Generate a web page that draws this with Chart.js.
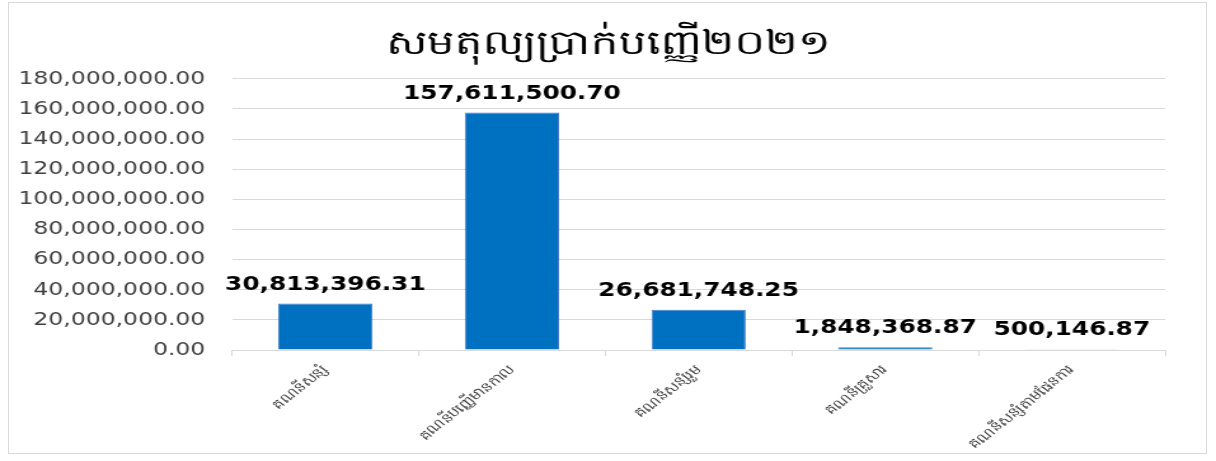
<!DOCTYPE html>
<html>
<head>
<meta charset="utf-8">
<script src="https://cdn.jsdelivr.net/npm/chart.js@4.4.0/dist/chart.umd.min.js"></script>
<style>
  html, body { margin: 0; padding: 0; background: #ffffff; }
  body { width: 1216px; height: 461px; position: relative; overflow: hidden; }
  #frame { position: absolute; left: 8px; top: 2px; width: 1199px; height: 452px; border: 1px solid #d9d9d9; box-sizing: border-box; }
  #wrap { position: absolute; left: 0; top: 0; width: 957px; height: 461px; transform: scaleX(1.2706); transform-origin: 0 0; }
</style>
</head>
<body>
<div id="frame"></div>
<div id="wrap"><canvas id="c"></canvas></div>
<script>
const titleText = "សមតុល្យប្រាក់បញ្ញើ២០២១";
const categories = ["គណនីសន្សំ", "គណនីបញ្ញើមានកាល", "គណនីសន្សំរួម", "គណនីគ្រួសារ", "គណនីសន្សំតាមផែនការ"];
const balances = [30813396.31, 157611500.70, 26681748.25, 1848368.87, 500146.87];
const yMin = 0;
const yMax = 180000000;
const yStep = 20000000;

const fmt = v => Number(v).toLocaleString('en-US', {minimumFractionDigits: 2, maximumFractionDigits: 2});

const valueLabels = {
  id: 'valueLabels',
  afterDatasetsDraw(chart) {
    const ctx = chart.ctx;
    const meta = chart.getDatasetMeta(0);
    ctx.save();
    ctx.font = 'bold 19.5px "DejaVu Sans", sans-serif';
    ctx.fillStyle = '#000000';
    ctx.textAlign = 'center';
    ctx.textBaseline = 'alphabetic';
    meta.data.forEach((bar, i) => {
      ctx.fillText(fmt(chart.data.datasets[0].data[i]), bar.x, bar.y - 14);
    });
    ctx.restore();
  }
};

new Chart(document.getElementById('c'), {
  type: 'bar',
  data: {
    labels: categories,
    datasets: [{
      data: balances,
      backgroundColor: '#0070c0',
      borderColor: '#4a7cc9',
      borderWidth: 1,
      categoryPercentage: 1.0,
      barPercentage: 0.505
    }]
  },
  options: {
    responsive: true,
    maintainAspectRatio: false,
    animation: false,
    layout: { padding: { left: 0, right: 0, top: 0, bottom: 0 } },
    plugins: {
      legend: { display: false },
      tooltip: { enabled: false },
      title: {
        display: true,
        text: titleText,
        color: '#000000',
        font: { size: 34, family: '"Noto Sans", "DejaVu Sans", sans-serif', weight: 'normal', lineHeight: 1.2 },
        padding: { top: 24, bottom: 14 }
      }
    },
    scales: {
      x: {
        grid: { drawOnChartArea: false, drawTicks: true, tickLength: 6, color: '#d9d9d9', offset: true },
        border: { color: '#d9d9d9', width: 1 },
        ticks: { color: '#404040', font: { size: 13, family: '"Noto Sans", "DejaVu Sans", sans-serif' }, minRotation: 45, maxRotation: 45, padding: 6, autoSkip: false },
        afterFit(scale) { scale.height = 111; }
      },
      y: {
        min: yMin,
        max: yMax,
        grid: { color: '#d9d9d9', drawTicks: false, lineWidth: 1 },
        border: { display: false },
        ticks: {
          stepSize: yStep,
          color: '#404040',
          padding: 21,
          font: { size: 18.5, family: '"DejaVu Sans", sans-serif' },
          callback: v => fmt(v)
        },
        afterFit(scale) { scale.width = 182.6; }
      },
      yRight: {
        position: 'right',
        min: yMin,
        max: yMax,
        grid: { drawOnChartArea: false, drawTicks: false },
        border: { display: false },
        ticks: { display: false },
        afterFit(scale) { scale.width = 40; }
      }
    }
  },
  plugins: [valueLabels]
});
</script>
</body>
</html>
